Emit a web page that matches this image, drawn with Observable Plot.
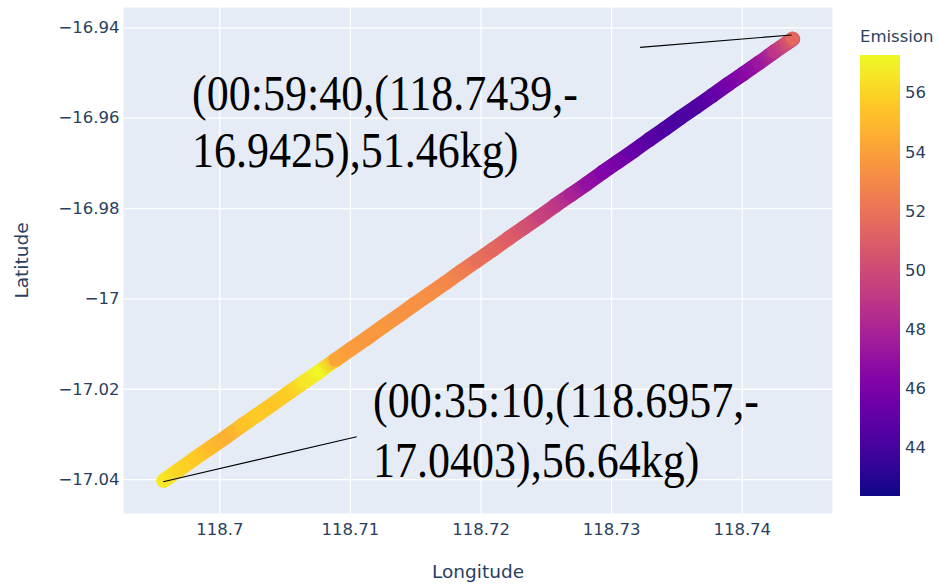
<!DOCTYPE html>
<html><head><meta charset="utf-8">
<script src="https://cdn.jsdelivr.net/npm/d3@7"></script>
<script src="https://cdn.jsdelivr.net/npm/@observablehq/plot@0.6"></script>
<style>
html,body{margin:0;padding:0;background:#fff;}
#chart{width:938px;height:586px;}
</style></head><body><div id="chart"></div>
<script>
// ---- data ----
const lon = [118.6957,118.6969,118.6981,118.6993,118.7005,118.7017,118.7029,118.7041,118.7053,118.7065,
             118.7077,118.7089,118.7101,118.7113,118.7125,118.7137,118.7149,118.7161,118.7173,118.7185,
             118.7197,118.7209,118.7221,118.7233,118.7245,118.7257,118.7269,118.7281,118.7293,118.7305,
             118.7317,118.7329,118.7341,118.7353,118.7365,118.7377,118.7389,118.7401,118.7413,118.7425,118.7439];
const lat = [-17.0403,-17.0379,-17.0354,-17.0330,-17.0306,-17.0281,-17.0257,-17.0233,-17.0208,-17.0184,
             -17.0160,-17.0135,-17.0111,-17.0087,-17.0062,-17.0038,-17.0013,-16.9989,-16.9965,-16.9940,
             -16.9916,-16.9892,-16.9867,-16.9843,-16.9819,-16.9794,-16.9770,-16.9746,-16.9721,-16.9697,
             -16.9673,-16.9648,-16.9624,-16.9599,-16.9575,-16.9551,-16.9526,-16.9502,-16.9478,-16.9453,-16.9425];
const emission = [56.64,56.0,55.6,55.0,54.6,55.3,55.6,55.5,55.8,56.6,
                  57.2,54.2,53.8,53.7,53.6,53.5,53.4,53.3,53.0,52.5,
                  51.9,51.5,51.0,50.3,49.6,49.0,48.0,47.0,46.3,45.8,
                  45.2,44.7,44.3,44.2,44.4,45.0,45.8,46.5,47.3,48.9,51.46];

const xTicks = [118.70, 118.71, 118.72, 118.73, 118.74];
const xTickLabels = ["118.7", "118.71", "118.72", "118.73", "118.74"];
const yTicks = [-16.94, -16.96, -16.98, -17, -17.02, -17.04];
const yTickLabels = ["\u221216.94", "\u221216.96", "\u221216.98", "\u221217", "\u221217.02", "\u221217.04"];
const colorTicks = [44, 46, 48, 50, 52, 54, 56];
const colorDomain = [42.35, 57.27];
const xDomain = [118.69263, 118.74691];
const yDomain = [-17.0475, -16.9355];

const annLon = [118.7439, 118.6957];
const annLat = [-16.9425, -17.0403];
const annText = ["(00:59:40,(118.7439,-\n16.9425),51.46kg)", "(00:35:10,(118.6957,-\n17.0403),56.64kg)"];

// ---- build tables ----
const pts = lon.map((x, i) => ({lon: x, lat: lat[i], e: emission[i]}));
const segs = pts.slice(0, -1).map((p, i) => ({lon1: p.lon, lat1: p.lat, lon2: pts[i + 1].lon, lat2: pts[i + 1].lat, e: p.e, e2: pts[i + 1].e}));

const FONT = "DejaVu Sans, Verdana, sans-serif";
const SERIF = "Liberation Serif, Times New Roman, serif";
const INK = "#2a3f5f";
const BAND = 14;

// smooth colour band: each segment blends the colours of its two points (through the color scale)
function band(index, scales) {
  const g = d3.create("svg:g");
  const defs = g.append("defs");
  segs.forEach((s, i) => {
    const x1 = scales.x(s.lon1), y1 = scales.y(s.lat1), x2 = scales.x(s.lon2), y2 = scales.y(s.lat2);
    const gr = defs.append("linearGradient").attr("id", "seg" + i).attr("gradientUnits", "userSpaceOnUse")
      .attr("x1", x1).attr("y1", y1).attr("x2", x2).attr("y2", y2);
    gr.append("stop").attr("offset", 0).attr("stop-color", scales.color(s.e));
    gr.append("stop").attr("offset", 1).attr("stop-color", scales.color(s.e2));
    g.append("line").attr("x1", x1).attr("y1", y1).attr("x2", x2).attr("y2", y2)
      .attr("stroke", `url(#seg${i})`).attr("stroke-width", BAND).attr("stroke-linecap", "round");
  });
  const last = pts[pts.length - 1];
  g.append("circle").attr("cx", scales.x(last.lon)).attr("cy", scales.y(last.lat)).attr("r", BAND / 2)
    .attr("fill", scales.color(last.e));
  return g.node();
}

// annotations: arrow line + two-line serif label (pixel offsets from the anchored point)
const arrowOffsets = [[[-1, -3.6], [-152.6, 8.7]], [[0, 1.3], [193.6, -43.7]]];
const labelOffsets = [[-600.6, 71.4, 128.4], [210, -63.7, -3.7]];
function annotations(index, scales) {
  const g = d3.create("svg:g");
  annLon.forEach((x, i) => {
    const px = scales.x(x), py = scales.y(annLat[i]);
    const [h, t] = arrowOffsets[i];
    g.append("line")
      .attr("x1", px + h[0]).attr("y1", py + h[1])
      .attr("x2", px + t[0]).attr("y2", py + t[1])
      .attr("stroke", "#000").attr("stroke-width", 1.2);
    const [dx, dy1, dy2] = labelOffsets[i];
    annText[i].split("\n").forEach((line, j) => {
      g.append("text")
        .attr("transform", `translate(${px + dx},${py + (j ? dy2 : dy1)}) scale(1,1.14)`)
        .attr("text-anchor", "start").attr("font-family", SERIF).attr("font-size", 44)
        .attr("fill", "#000").text(line);
    });
  });
  return g.node();
}

// vertical colorbar drawn through the color scale
function colorbar(index, scales, values, dims) {
  const x0 = dims.width - dims.marginRight + 28, w = 40;
  const top = dims.marginTop + 48, bottom = dims.height - dims.marginBottom - 17;
  const g = d3.create("svg:g").attr("text-anchor", "start");
  const grad = g.append("defs").append("linearGradient").attr("id", "cbgrad")
    .attr("x1", 0).attr("y1", 1).attr("x2", 0).attr("y2", 0);
  for (let k = 0; k <= 40; k++) {
    const t = k / 40;
    grad.append("stop").attr("offset", t)
      .attr("stop-color", scales.color(colorDomain[0] + t * (colorDomain[1] - colorDomain[0])));
  }
  g.append("rect").attr("x", x0).attr("y", top).attr("width", w).attr("height", bottom - top)
    .attr("fill", "url(#cbgrad)");
  const yc = d3.scaleLinear(colorDomain, [bottom, top]);
  colorTicks.forEach(v => {
    g.append("text").attr("x", x0 + w + 5).attr("y", yc(v)).attr("dy", "0.36em").attr("text-anchor", "start")
      .attr("fill", INK).attr("font-family", FONT).attr("font-size", 16.5).text(v);
  });
  g.append("text").attr("x", x0).attr("y", top - 13).attr("text-anchor", "start")
    .attr("fill", INK).attr("font-family", FONT).attr("font-size", 16.5).text("Emission");
  return g.node();
}

const chart = Plot.plot({
  width: 938, height: 586,
  marginLeft: 123, marginRight: 106, marginTop: 7, marginBottom: 73,
  style: {fontFamily: FONT, fontSize: "16px", color: INK, background: "#fff", overflow: "visible"},
  x: {domain: xDomain},
  y: {domain: yDomain},
  color: {type: "linear", scheme: "plasma", domain: colorDomain},
  marks: [
    Plot.frame({fill: "#e5ecf6", stroke: "none"}),
    Plot.gridX(xTicks, {stroke: "#fff", strokeOpacity: 1, strokeWidth: 1.3}),
    Plot.gridY(yTicks, {stroke: "#fff", strokeOpacity: 1, strokeWidth: 1.3}),
    Plot.axisX({ticks: xTicks, tickFormat: d => xTickLabels[xTicks.indexOf(d)], tickSize: 0, tickPadding: 10,
                label: null, fontSize: 16.5, fill: INK}),
    Plot.axisY({ticks: yTicks, tickFormat: d => yTickLabels[yTicks.indexOf(d)], tickSize: 0, tickPadding: 4,
                label: null, fontSize: 16.5, fill: INK}),
    Plot.text(["Longitude"], {frameAnchor: "bottom", text: d => d, dy: 64, textAnchor: "middle", lineAnchor: "bottom",
                              fontSize: 18.5, fill: INK}),
    Plot.text(["Latitude"], {frameAnchor: "left", text: d => d, dx: -101, rotate: -90, textAnchor: "middle",
                             lineAnchor: "middle", fontSize: 18.5, fill: INK}),
    Plot.link(segs, {x1: "lon1", y1: "lat1", x2: "lon2", y2: "lat2", stroke: "e",
                     strokeWidth: BAND, strokeLinecap: "round"}),
    band,
    annotations,
    colorbar
  ]
});
document.getElementById("chart").append(chart);
</script></body></html>
